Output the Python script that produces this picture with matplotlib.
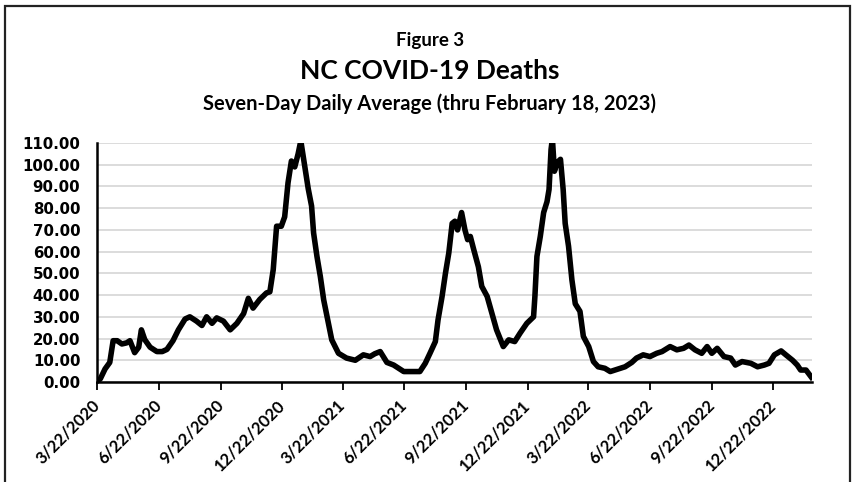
import datetime as dt
import matplotlib
matplotlib.use("Agg")
import matplotlib.pyplot as plt
import matplotlib.dates as mdates
import matplotlib.patches as patch
from matplotlib.ticker import FuncFormatter, MultipleLocator

# days after 3/22/2020 and the seven-day average
start = dt.date(2020, 3, 22)
end = dt.date(2023, 2, 18)
day = [0, 5, 12, 19, 24, 30, 37, 44, 49, 56, 62, 66, 71, 79, 89, 97, 104, 113, 121, 131,
       138, 148, 156, 163, 171, 178, 188, 198, 208, 218, 225, 232, 242, 252, 257, 262, 267, 274, 279, 284,
       289, 294, 299, 303, 309, 314, 319, 322, 327, 332, 337, 344, 349, 359, 371, 384, 396, 406, 413, 421,
       431, 441, 456, 468, 480, 488, 495, 503, 507, 513, 518, 523, 528, 532, 536, 542, 547, 551, 555, 560,
       567, 572, 580, 587, 594, 604, 612, 621, 629, 639, 649, 651, 654, 659, 664, 669, 672, 675, 677, 680,
       684, 689, 693, 696, 701, 706, 711, 718, 723, 731, 738, 745, 755, 763, 773, 785, 795, 802, 812, 822,
       832, 840, 852, 862, 872, 880, 889, 899, 907, 914, 922, 932, 942, 949, 959, 972, 982, 992, 999, 1007,
       1017, 1024, 1034, 1041, 1046, 1054, 1062]
deaths = [0, 1.5, 6, 9, 19, 19, 17.5, 18, 19, 13.5, 16, 24, 19.5, 16, 14, 14, 15, 19, 24, 29,
          30, 28, 26, 30, 27, 29.5, 28, 24, 27, 31.5, 38.5, 34, 38, 41, 41.5, 51.7, 71.7, 71.7, 76, 91.7,
          101.7, 99, 105, 111, 99, 89, 81, 68.6, 57.8, 48.6, 37.8, 27, 19.4, 13.2, 11, 10, 12.5, 11.7, 13, 14,
          9, 7.8, 4.8, 4.8, 4.8, 8.6, 13.2, 18.6, 28.6, 39.4, 50, 59.4, 73, 74, 70, 78, 70, 65.5, 67, 61,
          53, 44, 39.4, 31.7, 24, 16.3, 19.4, 18.6, 22.5, 27, 30, 39.4, 57.8, 67, 78, 83, 88.6, 107, 112, 97,
          101, 102.5, 88.6, 73, 62.5, 47, 36, 32.5, 21, 16.3, 9.4, 7, 6.3, 4.8, 5.8, 7, 9, 11, 12.5, 11.7,
          13.2, 14, 16.3, 14.8, 15.5, 17, 14.8, 13.2, 16.3, 13.2, 15.5, 11.7, 11, 7.8, 9.4, 8.6, 7, 7.8, 8.6, 12.5,
          14.3, 12.5, 10, 7.8, 5.5, 5.5, 2.2]
tick_dates = [dt.date(y, m, 22) for y in (2020, 2021, 2022) for m in (3, 6, 9, 12)]

dates = [start + dt.timedelta(days=d) for d in day]

fig = plt.figure(figsize=(8.53, 4.82), dpi=100, facecolor='white')
ax = fig.add_axes([0.1137, 0.2075, 0.8383, 0.4958])

ax.plot(dates, deaths, color='black', linewidth=4.0, solid_joinstyle='round', zorder=3)

ax.set_xlim(start, end)
ax.set_ylim(0, 110)
ax.yaxis.set_major_locator(MultipleLocator(10))
ax.yaxis.set_major_formatter(FuncFormatter(lambda v, p: f"{v:.2f}"))
ax.set_xticks(tick_dates)
ax.xaxis.set_major_formatter(FuncFormatter(
    lambda v, p: "{d.month}/{d.day}/{d.year}".format(d=mdates.num2date(v))))

ax.grid(axis='y', color='#d9d9d9', linewidth=1.3)
ax.set_axisbelow(True)
for s in ('top', 'right'):
    ax.spines[s].set_visible(False)
ax.spines['left'].set_linewidth(1.8)
ax.spines['bottom'].set_linewidth(1.8)

ax.tick_params(axis='y', length=0, pad=12)
ax.tick_params(axis='x', direction='out', length=6, width=1.3, pad=9)
for lab in ax.get_yticklabels():
    lab.set_fontfamily('DejaVu Sans')
    lab.set_fontweight('bold')
    lab.set_fontsize(10.8)
for lab in ax.get_xticklabels():
    lab.set_fontfamily('Lato')
    lab.set_fontweight('bold')
    lab.set_fontsize(12)
    lab.set_rotation(45)
    lab.set_ha('right')
    lab.set_va('center')
    lab.set_rotation_mode('anchor')

# titles
fig.text(0.504, 0.915, "Figure 3", ha='center', va='center',
         fontfamily='Lato', fontweight='bold', fontsize=13.5)
fig.text(0.504, 0.853, "NC COVID-19 Deaths", ha='center', va='center',
         fontfamily='Lato', fontweight='bold', fontsize=19)
fig.text(0.504, 0.785, "Seven-Day Daily Average (thru February 18, 2023)", ha='center', va='center',
         fontfamily='Lato', fontweight='bold', fontsize=14.5)

# outer frame
frame = patch.Rectangle((5 / 853, -0.1), 845 / 853, 1.1 - 6 / 482, transform=fig.transFigure,
                        fill=False, edgecolor='#222222', linewidth=1.6)
fig.patches.append(frame)

fig.savefig('out.png', dpi=100, facecolor='white')
